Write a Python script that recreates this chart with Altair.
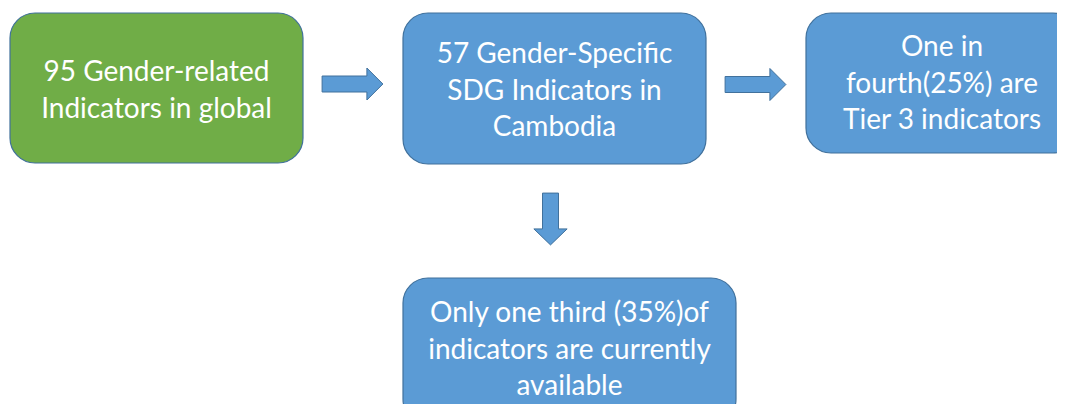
import altair as alt
import pandas as pd

# Box texts
box_texts = [
    "95 Gender-related\nIndicators in global",
    "57 Gender-Specific\nSDG Indicators in\nCambodia",
    "One in\nfourth(25%) are\nTier 3 indicators",
    "Only one third (35%)of\nindicators are currently\navailable",
]
box_colors = ["#70AD47", "#5B9BD5", "#5B9BD5", "#5B9BD5"]

# layout (pixel space of the slide)
box_x0 = [10, 403, 806, 403]
box_x1 = [303, 706, 1078, 736]
box_y0 = [13, 13, 13, 278]
box_y1 = [163, 164, 153, 424]
first_line_y = [73, 55, 48, 314]

boxes = pd.DataFrame({
    "text": box_texts, "color": box_colors,
    "x0": box_x0, "x1": box_x1, "y0": box_y0, "y1": box_y1,
    "tx": [(a + b) / 2 for a, b in zip(box_x0, box_x1)],
    "ty": first_line_y,
})

# arrows (block arrows drawn as custom symbols)
right_arrow = "M-0.95,-0.25 L0.45,-0.25 L0.45,-0.5 L0.95,0 L0.45,0.5 L0.45,0.25 L-0.95,0.25 Z"
down_arrow = "M-0.25,-0.81 L0.25,-0.81 L0.25,0.31 L0.52,0.31 L0,0.81 L-0.52,0.31 L-0.25,0.31 Z"
arrow_cx = [352.5, 755.5, 550.5]
arrow_cy = [84, 84.5, 219]
arrow_shape = [right_arrow, right_arrow, down_arrow]
arrows = pd.DataFrame({"cx": arrow_cx, "cy": arrow_cy, "shape": arrow_shape})

W, H = 1049, 396
xs = alt.Scale(domain=[8, 8 + W], nice=False, zero=False)
ys = alt.Scale(domain=[8, 8 + H], nice=False, zero=False, reverse=True)

rects = alt.Chart(boxes).mark_rect(
    cornerRadius=25, stroke="#41719C", strokeWidth=1.2, clip=True
).encode(
    x=alt.X("x0:Q", scale=xs, axis=None),
    x2="x1:Q",
    y=alt.Y("y0:Q", scale=ys, axis=None),
    y2="y1:Q",
    fill=alt.Fill("color:N", scale=None),
)

texts = alt.Chart(boxes).mark_text(
    font="Lato", fontSize=28, color="white", lineBreak="\n",
    lineHeight=36.5, align="center", baseline="middle", clip=True
).encode(
    x=alt.X("tx:Q", scale=xs, axis=None),
    y=alt.Y("ty:Q", scale=ys, axis=None),
    text="text:N",
)

arrow_layer = alt.Chart(arrows).mark_point(
    filled=True, fill="#5B9BD5", stroke="#41719C", strokeWidth=1,
    opacity=1, size=4096
).encode(
    x=alt.X("cx:Q", scale=xs, axis=None),
    y=alt.Y("cy:Q", scale=ys, axis=None),
    shape=alt.Shape("shape:N", scale=None),
)

chart = alt.layer(rects, arrow_layer, texts).properties(
    width=W, height=H, padding=0, background="white"
).configure_view(stroke=None)

chart.save("out.html", embed_options={"renderer": "svg", "actions": False})
